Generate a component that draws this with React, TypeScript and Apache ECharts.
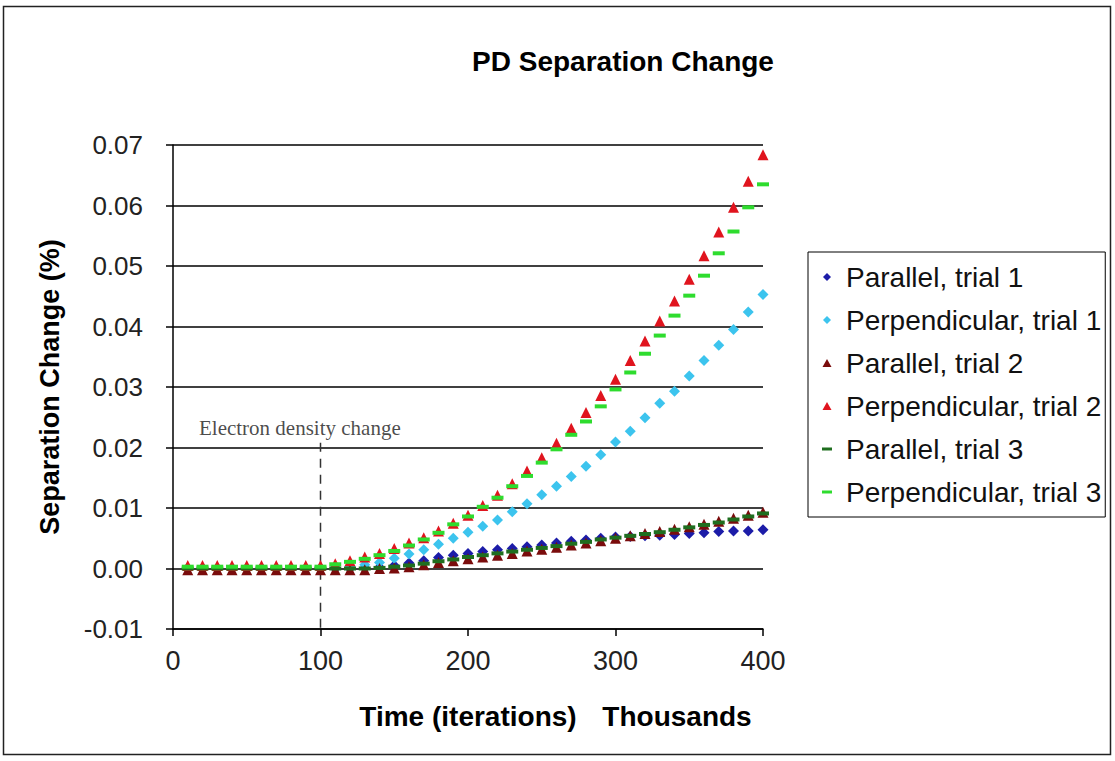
import React, { useEffect, useRef } from "react";
import * as echarts from "echarts";

const times = [10, 20, 30, 40, 50, 60, 70, 80, 90, 100, 110, 120, 130, 140, 150, 160, 170, 180, 190, 200,
  210, 220, 230, 240, 250, 260, 270, 280, 290, 300, 310, 320, 330, 340, 350, 360, 370, 380, 390, 400];

const parallel1 = [0, 0, 0, 0, 0, 0, 0, 0, 0, 0, 0, 0, 0.0001, 0.0002, 0.0005, 0.0009, 0.0013, 0.0018, 0.0022, 0.0025,
  0.0028, 0.0031, 0.0033, 0.0036, 0.0039, 0.0042, 0.0045, 0.0047, 0.005, 0.0052, 0.0053, 0.0054, 0.0055, 0.0056, 0.0058, 0.0059, 0.0061, 0.0062, 0.0062, 0.0064];

const perpendicular1 = [0.0001, 0.0001, 0.0001, 0.0001, 0.0001, 0.0001, 0.0001, 0.0001, 0.0001, 0.0001, 0.0002, 0.0003, 0.0006, 0.001, 0.0017, 0.0024, 0.0031, 0.004, 0.005, 0.006,
  0.007, 0.008, 0.0094, 0.0107, 0.0122, 0.0136, 0.0152, 0.0169, 0.0188, 0.0209, 0.0227, 0.0249, 0.0273, 0.0293, 0.0318, 0.0344, 0.0369, 0.0395, 0.0424, 0.0453];

const parallel2 = [-0.0002, -0.0002, -0.0002, -0.0002, -0.0002, -0.0002, -0.0002, -0.0002, -0.0002, -0.0002, -0.0002, -0.0002, -0.0002, 0, 0.0001, 0.0003, 0.0006, 0.001, 0.0013, 0.0016,
  0.0019, 0.0022, 0.0025, 0.0029, 0.0032, 0.0035, 0.0039, 0.0042, 0.0046, 0.005, 0.0054, 0.0058, 0.0061, 0.0065, 0.0069, 0.0073, 0.0078, 0.0083, 0.0088, 0.0093];

const perpendicular2 = [0.0005, 0.0005, 0.0005, 0.0005, 0.0005, 0.0005, 0.0005, 0.0005, 0.0005, 0.0005, 0.0008, 0.0013, 0.0019, 0.0025, 0.0033, 0.0042, 0.0051, 0.0062, 0.0075, 0.0088,
  0.0104, 0.0121, 0.014, 0.0161, 0.0183, 0.0207, 0.0232, 0.0258, 0.0286, 0.0313, 0.0344, 0.0376, 0.0409, 0.0442, 0.0478, 0.0517, 0.0556, 0.0597, 0.064, 0.0684];

const parallel3 = [0, 0, 0, 0, 0, 0, 0, 0, 0, 0, 0, 0, 0, 0.0001, 0.0003, 0.0005, 0.0008, 0.0012, 0.0015, 0.0019,
  0.0022, 0.0025, 0.0028, 0.0031, 0.0034, 0.0037, 0.0041, 0.0044, 0.0048, 0.0051, 0.0054, 0.0057, 0.006, 0.0064, 0.0068, 0.0072, 0.0076, 0.0081, 0.0086, 0.0091];

const perpendicular3 = [0.0003, 0.0003, 0.0003, 0.0003, 0.0003, 0.0003, 0.0003, 0.0003, 0.0003, 0.0003, 0.0007, 0.0011, 0.0016, 0.0022, 0.0029, 0.0038, 0.0048, 0.0059, 0.0073, 0.0086,
  0.0102, 0.0117, 0.0136, 0.0153, 0.0175, 0.0197, 0.0221, 0.0243, 0.0268, 0.0296, 0.0324, 0.0355, 0.0385, 0.0418, 0.0451, 0.0484, 0.0521, 0.0557, 0.0597, 0.0635];

const seriesNames = [
  "Parallel, trial 1",
  "Perpendicular, trial 1",
  "Parallel, trial 2",
  "Perpendicular, trial 2",
  "Parallel, trial 3",
  "Perpendicular, trial 3",
];
const seriesValues = [parallel1, perpendicular1, parallel2, perpendicular2, parallel3, perpendicular3];
const seriesColors = ["#1c1ca8", "#3cc4ee", "#7a0c0c", "#e0141e", "#1f6e1f", "#2edc2e"];

const markerLine = [[100, 0.0208], [100, -0.01]];
const annotation = { text: "Electron density change", x: 86, y: 0.0233 };

const yTicks = { min: -0.01, max: 0.07, step: 0.01 };
const xTicks = { min: 0, max: 400, step: 100 };

const LEG_DIAMOND = "path://M0,0M25,11M11,1.5L15,5.5L11,9.5L7,5.5Z";
const LEG_TRIANGLE = "path://M0,0M25,11M11,1.5L15.5,9.5L6.5,9.5Z";
const LEG_DASH = "path://M0,0M25,11M6,4L16,4L16,7L6,7Z";

export default function App() {
  const ref = useRef<HTMLDivElement>(null);

  useEffect(() => {
    document.body.style.margin = "0";
    const chart = echarts.init(ref.current!, null, { renderer: "svg" });
    const symbols = ["diamond", "diamond", "triangle", "triangle", "rect", "rect"];
    const legendIcons = [LEG_DIAMOND, LEG_DIAMOND, LEG_TRIANGLE, LEG_TRIANGLE, LEG_DASH, LEG_DASH];
    const sizes: any[] = [11, 11, 11, 11, [12, 4], [12, 4]];
    const font = "Liberation Sans, Arial, sans-serif";

    const series: any[] = seriesNames.map((name, i) => ({
      name,
      type: "scatter",
      symbol: symbols[i],
      symbolSize: sizes[i],
      itemStyle: { color: seriesColors[i], opacity: 1 },
      data: times.map((t, j) => [t, seriesValues[i][j]]),
      z: 3 + i,
    }));

    series.push({
      name: "marker",
      type: "line",
      data: markerLine,
      symbol: "none",
      silent: true,
      lineStyle: { color: "#333", width: 1.5, type: [9, 7] },
      z: 2,
    });
    series.push({
      name: "annotation",
      type: "scatter",
      symbolSize: 0,
      silent: true,
      data: [[annotation.x, annotation.y]],
      label: {
        show: true,
        position: "inside",
        formatter: annotation.text,
        fontFamily: "Liberation Serif, Times New Roman, serif",
        fontSize: 21,
        color: "#1a1a1a",
      },
      z: 2,
    });

    chart.setOption({
      animation: false,
      backgroundColor: "#ffffff",
      title: {
        text: "PD Separation Change",
        left: 618,
        top: 42,
        textAlign: "center",
        textStyle: { fontFamily: font, fontWeight: "bold", fontSize: 28, color: "#000" },
      },
      legend: {
        orient: "vertical",
        left: 808,
        top: 252,
        data: seriesNames.map((n, i) => ({ name: n, icon: legendIcons[i] })),
        itemWidth: 25,
        itemHeight: 11,
        itemGap: 9,
        padding: [8, 4, 8, 8],
        borderColor: "#000",
        borderWidth: 1,
        textStyle: { fontFamily: font, fontSize: 28, color: "#111", lineHeight: 34 },
      },
      grid: { left: 173, top: 145, width: 590, height: 484 },
      xAxis: {
        type: "value",
        min: xTicks.min,
        max: xTicks.max,
        interval: xTicks.step,
        axisLine: { onZero: false, lineStyle: { color: "#000", width: 1.5 } },
        axisTick: { show: true, length: 7, lineStyle: { color: "#000", width: 1.5 } },
        axisLabel: { margin: 18, fontFamily: font, fontSize: 27, color: "#222" },
        splitLine: { show: false },
      },
      yAxis: {
        type: "value",
        min: yTicks.min,
        max: yTicks.max,
        interval: yTicks.step,
        name: "Separation Change (%)",
        nameLocation: "middle",
        nameGap: 110,
        nameRotate: 90,
        nameTextStyle: { fontFamily: font, fontWeight: "bold", fontSize: 27, color: "#000" },
        axisLine: { show: true, lineStyle: { color: "#000", width: 1.5 } },
        axisTick: { show: true, length: 7, lineStyle: { color: "#000", width: 1.5 } },
        axisLabel: {
          margin: 30,
          fontFamily: font,
          fontSize: 26,
          color: "#222",
          formatter: (v: number) => v.toFixed(2),
        },
        splitLine: { show: true, lineStyle: { color: "#000", width: 1.5 } },
      },
      graphic: [
        {
          type: "rect",
          shape: { x: 3.5, y: 6.5, width: 1107, height: 748 },
          style: { fill: "none", stroke: "#222", lineWidth: 1.5 },
          silent: true,
        },
        {
          type: "text",
          x: 468,
          y: 716,
          style: {
            text: "Time (iterations)",
            fontFamily: font,
            fontWeight: "bold",
            fontSize: 28,
            fill: "#000",
            align: "center",
            verticalAlign: "middle",
          },
        },
        {
          type: "text",
          x: 677,
          y: 716,
          style: {
            text: "Thousands",
            fontFamily: font,
            fontWeight: "bold",
            fontSize: 28,
            fill: "#000",
            align: "center",
            verticalAlign: "middle",
          },
        },
      ],
      series,
    });
    return () => chart.dispose();
  }, []);

  return <div ref={ref} style={{ width: 1115, height: 761 }} />;
}
